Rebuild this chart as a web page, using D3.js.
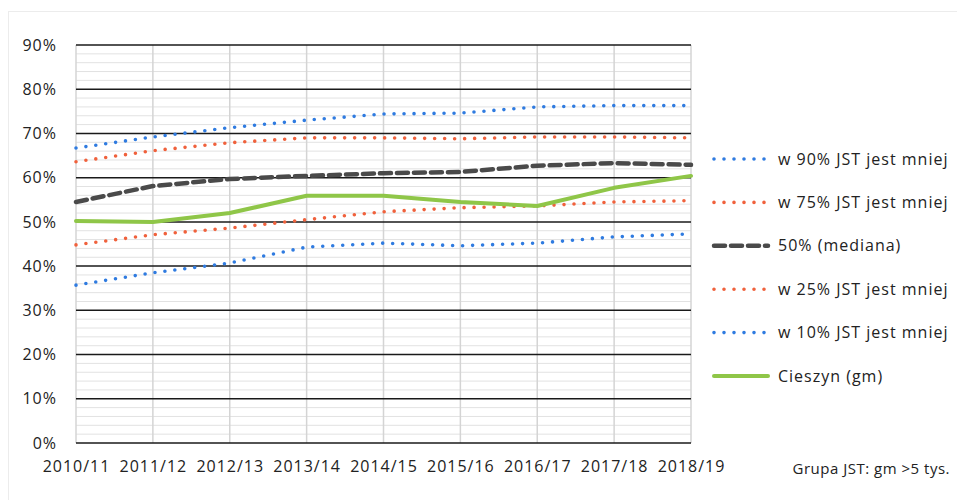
<!DOCTYPE html>
<html>
<head>
<meta charset="utf-8">
<script src="https://cdn.jsdelivr.net/npm/d3@7"></script>
<style>
  html, body { margin: 0; padding: 0; background: #fff; }
  svg { display: block; }
  text { font-family: "Open Sans", Lato, sans-serif; fill: #222; }
</style>
</head>
<body>
<svg id="chart" width="957" height="500"></svg>
<script>
// Seasons on the horizontal axis
const categories = ["2010/11", "2011/12", "2012/13", "2013/14", "2014/15", "2015/16", "2016/17", "2017/18", "2018/19"];

// Percentile series (percent)
const p90 = [66.7, 69.2, 71.3, 73.0, 74.4, 74.6, 76.0, 76.3, 76.3];
const p75 = [63.6, 66.1, 67.9, 69.0, 69.0, 68.8, 69.2, 69.2, 69.0];
const p50 = [54.5, 58.1, 59.7, 60.4, 61.0, 61.3, 62.7, 63.3, 62.9];
const p25 = [44.8, 47.1, 48.6, 50.5, 52.3, 53.2, 53.6, 54.5, 54.8];
const p10 = [35.7, 38.5, 40.7, 44.3, 45.2, 44.6, 45.2, 46.6, 47.3];
const cieszyn = [50.2, 50.0, 52.0, 55.9, 55.9, 54.5, 53.6, 57.7, 60.4];

const yTicks = [0, 10, 20, 30, 40, 50, 60, 70, 80, 90];
const seriesNames = ["w 90% JST jest mniej", "w 75% JST jest mniej", "50% (mediana)", "w 25% JST jest mniej", "w 10% JST jest mniej", "Cieszyn (gm)"];
const footnote = "Grupa JST: gm >5 tys.";

const blue = "#2f7be0", orange = "#f0613c", grey = "#4a4a4a", green = "#8fc648";
const styles = [
  { color: blue,   width: 3.6, dash: "0 10", cap: "round" },
  { color: orange, width: 3.6, dash: "0 10", cap: "round" },
  { color: grey,   width: 4.5, dash: "11 6", cap: "round" },
  { color: orange, width: 3.6, dash: "0 10", cap: "round" },
  { color: blue,   width: 3.6, dash: "0 10", cap: "round" },
  { color: green,  width: 4,   dash: null,   cap: "round" }
];
const seriesData = [p90, p75, p50, p25, p10, cieszyn];

const svg = d3.select("#chart");

// faint outer frame
svg.append("rect").attr("x", 8.5).attr("y", 11.5).attr("width", 960).attr("height", 500)
  .attr("fill", "none").attr("stroke", "#ececec").attr("stroke-width", 1);

const plotLeft = 76, plotRight = 691, plotTop = 45, plotBottom = 443;
const x = d3.scalePoint().domain(categories).range([plotLeft, plotRight]);
const y = d3.scaleLinear().domain([0, 90]).range([plotBottom, plotTop]);

// minor horizontal grid every 2%
const minor = d3.range(0, 91, 2).filter(v => v % 10 !== 0);
svg.append("g").selectAll("line").data(minor).join("line")
  .attr("x1", plotLeft).attr("x2", plotRight)
  .attr("y1", d => y(d)).attr("y2", d => y(d))
  .attr("stroke", "#e2e2e2").attr("stroke-width", 1);

// vertical grid at each category
svg.append("g").selectAll("line").data(categories).join("line")
  .attr("x1", d => x(d)).attr("x2", d => x(d))
  .attr("y1", plotTop).attr("y2", plotBottom)
  .attr("stroke", "#d4d4d4").attr("stroke-width", 1.5);

// major horizontal grid
svg.append("g").selectAll("line").data(yTicks).join("line")
  .attr("x1", plotLeft).attr("x2", plotRight)
  .attr("y1", d => y(d)).attr("y2", d => y(d))
  .attr("stroke", "#1a1a1a").attr("stroke-width", 1.5);

// Y axis labels
const yAxis = d3.axisLeft(y).tickValues(yTicks).tickFormat(d => d + "%").tickSize(0).tickPadding(19);
const gy = svg.append("g").attr("transform", `translate(${plotLeft},0)`).call(yAxis);
gy.select(".domain").remove();
gy.selectAll("text").style("font-size", "16px").style("letter-spacing", "1px")
  .style("font-family", "'Open Sans', sans-serif").attr("fill", "#222");

// X axis labels
const xAxis = d3.axisBottom(x).tickSize(0).tickPadding(18);
const gx = svg.append("g").attr("transform", `translate(0,${plotBottom})`).call(xAxis);
gx.select(".domain").remove();
gx.selectAll("text").style("font-size", "16px").style("letter-spacing", "1px")
  .style("font-family", "'Open Sans', sans-serif").attr("fill", "#222");

// series lines
const line = d3.line().x((d, i) => x(categories[i])).y(d => y(d));
seriesData.forEach((data, k) => {
  const s = styles[k];
  svg.append("path").datum(data)
    .attr("d", line)
    .attr("fill", "none")
    .attr("stroke", s.color)
    .attr("stroke-width", s.width)
    .attr("stroke-linecap", s.cap)
    .attr("stroke-linejoin", "round")
    .attr("stroke-dasharray", s.dash);
});

// legend
const lg = svg.append("g");
seriesNames.forEach((name, k) => {
  const s = styles[k];
  const ly = 159 + k * 43.4;
  lg.append("line").attr("x1", 714).attr("x2", 768).attr("y1", ly).attr("y2", ly)
    .attr("stroke", s.color).attr("stroke-width", s.width)
    .attr("stroke-linecap", s.cap).attr("stroke-dasharray", s.dash);
  lg.append("text").attr("x", 778).attr("y", ly).attr("dy", "0.35em")
    .style("font-size", "16px").style("letter-spacing", "1px").text(name);
});

// footnote
svg.append("text").attr("x", 950).attr("y", 474).attr("text-anchor", "end")
  .style("font-size", "15px").style("letter-spacing", "0.5px").text(footnote);
</script>
</body>
</html>
